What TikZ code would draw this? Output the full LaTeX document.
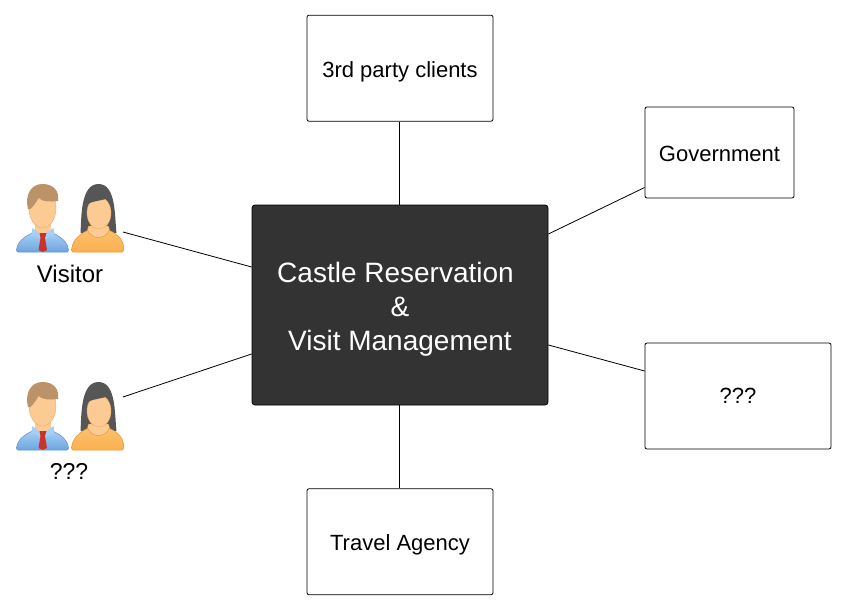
\documentclass[tikz,border=0pt]{standalone}
\usepackage{fontspec}
\usepackage{xcolor}
\setmainfont{Liberation Sans}
\usetikzlibrary{positioning, shapes.geometric}

\definecolor{darkbox}{HTML}{333333}
\definecolor{manblue}{HTML}{A6CFF5}
\definecolor{manbluedark}{HTML}{6DA5E0}
\definecolor{manblueline}{HTML}{5A8FC8}
\definecolor{skin}{HTML}{FBCB93}
\definecolor{skinline}{HTML}{E8AC6C}
\definecolor{manhair}{HTML}{BC9268}
\definecolor{womanhair}{HTML}{565656}
\definecolor{womanbody}{HTML}{FBB04D}
\definecolor{womanline}{HTML}{DF9430}
\definecolor{tiered}{HTML}{C8332B}

\newcommand{\toprule}[1]{\rule{0pt}{#1}}

\tikzset{
    whitebox/.style={rectangle, draw=black, fill=white, rounded corners=2pt, line width=0.8pt,
        font=\fontsize{22}{26}\selectfont, align=center},
    mainbox/.style={rectangle, draw=black, fill=darkbox, text=white, rounded corners=3pt, line width=0.8pt,
        minimum width=296pt, minimum height=200pt, align=center,
        font=\fontsize{28}{34}\selectfont},
    actorlabel/.style={font=\fontsize{24}{28}\selectfont, inner sep=0pt},
    smalllabel/.style={font=\fontsize{23}{27}\selectfont, inner sep=0pt},
    link/.style={draw=black, line width=0.8pt},
    pics/manicon/.style={code={
        \fill[skin] (-8,-34) rectangle (8,-14);
        \draw[manblueline, top color=manblue, bottom color=manbluedark, line width=0.5pt]
            (-26,-2) .. controls (-25,-10) and (-19,-15) .. (-10,-19)
            -- (0,-16) -- (10,-19) .. controls (19,-15) and (25,-10) .. (26,-2)
            .. controls (26,0) and (25,0) .. (24,0) -- (-24,0) .. controls (-25,0) and (-26,0) .. (-26,-2) -- cycle;
        \fill[manblue] (-10,-24) -- (0,-16) -- (11,-24) -- (12,-18) -- (1,-12) -- (-11,-18) -- cycle;
        \fill[tiered] (-3,-19) -- (4,-19) -- (2.5,-14) -- (4.5,-2) -- (0.3,0) -- (-4,-2) -- (-2,-14) -- cycle;
        \draw[skinline, fill=skin, line width=0.4pt] (0,-44) ellipse (13.5 and 20);
        \fill[manhair] (-14.5,-43) .. controls (-18,-58) and (-11,-68) .. (0,-68)
            .. controls (11,-68) and (17,-61) .. (15.5,-51)
            .. controls (8,-50) and (0,-50) .. (-4,-54)
            .. controls (-6,-50) and (-9,-46) .. (-12,-43) -- cycle;
    }},
    pics/womanicon/.style={code={
        \fill[womanhair] (-17,-19) .. controls (-16,-35) and (-17,-68) .. (1,-68)
            .. controls (19,-68) and (17,-35) .. (19,-19) -- cycle;
        \draw[womanline, top color=womanbody!80!white, bottom color=womanbody, line width=0.5pt]
            (-26,-2) .. controls (-25,-12) and (-18,-18) .. (-9,-22)
            -- (11,-22) .. controls (20,-18) and (27,-12) .. (26,-2)
            .. controls (26,0) and (25,0) .. (24,0) -- (-24,0) .. controls (-25,0) and (-26,0) .. (-26,-2) -- cycle;
        \draw[womanline, fill=skin, line width=0.4pt] (-9,-26) -- (11,-26) -- (12,-22)
            .. controls (8,-12) and (-6,-12) .. (-10,-22) -- cycle;
        \draw[skinline, fill=skin, line width=0.4pt] (1.5,-39) ellipse (12 and 16);
        \fill[womanhair] (-13,-42) .. controls (-14,-54) and (-8,-62) .. (2,-62)
            .. controls (12,-62) and (16,-54) .. (15,-42)
            .. controls (15,-49) and (14,-52) .. (13,-54)
            -- (-5,-50) .. controls (-8,-49) and (-12,-47) .. (-13,-42) -- cycle;
    }}
}

\begin{document}
\begin{tikzpicture}[x=1pt, y=-1pt]
\useasboundingbox (0,0) rectangle (846,610);

\node[mainbox](castle) at (400,305){\toprule{28pt}Castle Reservation\hspace*{9pt}\\\&\\Visit Management};

\node[whitebox, minimum width=186pt, minimum height=106pt](clients)[above = 83pt of castle]{\toprule{24pt}3rd party clients};
\node[whitebox, minimum width=186pt, minimum height=106pt](agency)[below = 83pt of castle]{\toprule{21pt}Travel Agency};
\node[whitebox, minimum width=149pt, minimum height=91pt](government) at (719.5,152.5){\toprule{18pt}Government};
\node[whitebox, minimum width=186pt, minimum height=106pt](unknownbox) at (738,396){???};

% visitor icons
\pic at (42.5,252) {manicon};
\pic at (97.5,252) {womanicon};
\node[actorlabel](visitor) at (70,274){Visitor};
\coordinate (visitorend) at (123,232);

\pic at (42.5,450) {manicon};
\pic at (97.5,450) {womanicon};
\node[smalllabel](unknownactor) at (69,471){???};
\coordinate (unknownend) at (123,397);

\draw[link] ([xshift=-0.7pt]clients.south) -- ([xshift=-0.7pt]castle.north);
\draw[link] ([xshift=-0.7pt]agency.north) -- ([xshift=-0.7pt]castle.south);
\draw[link] ([yshift=71pt]castle.east) -- ([yshift=-35pt]government.west);
\draw[link] ([yshift=-40pt]castle.east) -- ([yshift=25pt]unknownbox.west);
\draw[link] (visitorend) -- ([yshift=38pt]castle.west);
\draw[link] (unknownend) -- ([yshift=-49pt]castle.west);
\end{tikzpicture}
\end{document}
